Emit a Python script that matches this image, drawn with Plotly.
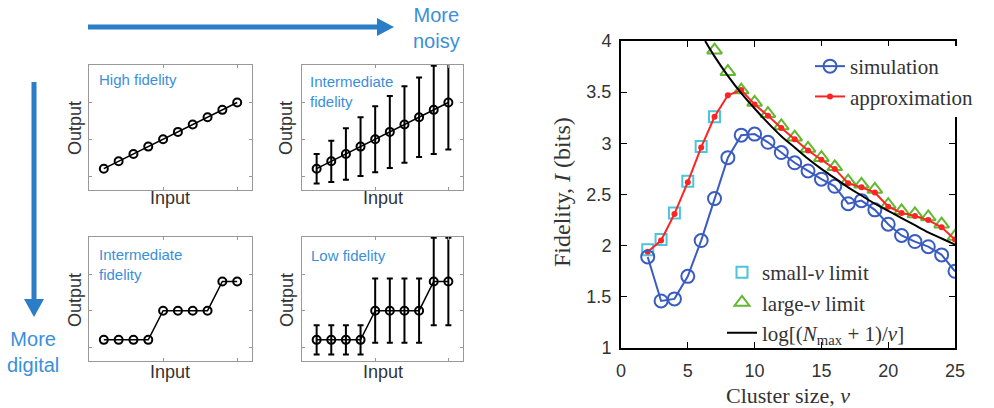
import plotly.graph_objects as go

# --- left: four sketch panels (input -> output) ---
inputs = [1, 2, 3, 4, 5, 6, 7, 8, 9, 10]
linear_out = [1, 2, 3, 4, 5, 6, 7, 8, 9, 10]
linear_err = [2.0, 2.8, 3.5, 4.0, 4.5, 4.9, 5.2, 5.4, 6.0, 6.4]
digital_out = [1, 1, 1, 1, 5, 5, 5, 5, 9, 9]
digital_err = [2.0, 2.0, 2.0, 2.0, 4.4, 4.4, 4.4, 4.4, 6.0, 6.0]
panel_titles = ["High fidelity", "Intermediate<br>fidelity", "Intermediate<br>fidelity", "Low fidelity"]

# --- right: fidelity vs cluster size ---
nu = [2, 3, 4, 5, 6, 7, 8, 9, 10, 11, 12, 13, 14, 15, 16, 17, 18, 19, 20, 21, 22, 23, 24, 25]
simulation = [1.89, 1.46, 1.48, 1.70, 2.05, 2.46, 2.86, 3.08, 3.09, 3.01, 2.91, 2.81,
              2.73, 2.65, 2.58, 2.41, 2.44, 2.35, 2.21, 2.10, 2.04, 1.99, 1.91, 1.75]
approximation = [1.94, 2.05, 2.31, 2.62, 2.96, 3.26, 3.47, 3.52, 3.38, 3.27, 3.15, 3.04,
                 2.93, 2.84, 2.75, 2.61, 2.57, 2.52, 2.38, 2.32, 2.29, 2.25, 2.18, 2.06]
small_nu = [2, 3, 4, 5, 6, 7]
small_limit = [1.96, 2.06, 2.32, 2.63, 2.97, 3.26]
large_nu = [7, 8, 9, 10, 11, 12, 13, 14, 15, 16, 17, 18, 19, 20, 21, 22, 23, 24, 25]
large_limit = [3.91, 3.70, 3.52, 3.40, 3.29, 3.17, 3.06, 2.95, 2.86, 2.77, 2.63, 2.60,
               2.55, 2.40, 2.34, 2.31, 2.28, 2.21, 2.09]
bound_nu = [6.3, 7, 8, 9, 10, 11, 12, 13, 14, 15, 16, 17, 18, 19, 20, 21, 22, 23, 24, 25]
bound_vals = [4.00, 3.85, 3.66, 3.49, 3.34, 3.20, 3.07, 2.96, 2.85, 2.75, 2.66, 2.57,
              2.49, 2.41, 2.34, 2.27, 2.20, 2.13, 2.07, 2.01]

W, H = 994, 408
def px_x(v):
    return v / W
def px_y(v):
    return 1 - v / H

BLUE_TXT = "#3b8fd9"
ARROW = "#2a7dc6"
SANS = "Liberation Sans"
SERIF = "Liberation Serif"

fig = go.Figure()

# panel boxes in pixels: (left, right, top, bottom)
boxes = [(89, 252, 65, 190), (302, 463, 65, 190), (89, 252, 237, 361), (302, 463, 237, 361)]
panel_y = [linear_out, linear_out, digital_out, digital_out]
panel_err = [None, linear_err, None, digital_err]

for i in range(4):
    n = i + 1
    err = None
    if panel_err[i] is not None:
        err = dict(type="data", array=panel_err[i], color="black", thickness=2, width=3)
    fig.add_trace(go.Scatter(
        x=inputs, y=panel_y[i], error_y=err, mode="lines+markers",
        line=dict(color="black", width=1.5),
        marker=dict(symbol="circle-open", size=8, color="black", line=dict(width=2)),
        xaxis=f"x{n}", yaxis=f"y{n}", showlegend=False))

# right panel traces
fig.add_trace(go.Scatter(
    x=small_nu, y=small_limit, mode="markers", name="small-<i>ν</i> limit",
    marker=dict(symbol="square-open", size=11, color="#4cc4dc", line=dict(width=2)),
    xaxis="x5", yaxis="y5", legend="legend2", legendrank=1))
fig.add_trace(go.Scatter(
    x=large_nu, y=large_limit, mode="markers", name="large-<i>ν</i> limit",
    marker=dict(symbol="triangle-up-open", size=13, color="#62b82e", line=dict(width=2)),
    xaxis="x5", yaxis="y5", legend="legend2", legendrank=2))
fig.add_trace(go.Scatter(
    x=nu, y=approximation, mode="lines+markers", name="approximation",
    line=dict(color="#ff2424", width=2),
    marker=dict(symbol="circle", size=6, color="#ff2424"),
    xaxis="x5", yaxis="y5", legend="legend", legendrank=2))
fig.add_trace(go.Scatter(
    x=nu, y=simulation, mode="lines+markers", name="simulation",
    line=dict(color="#3a5cc0", width=2),
    marker=dict(symbol="circle-open", size=13, color="#3a5cc0", line=dict(width=2)),
    xaxis="x5", yaxis="y5", legend="legend", legendrank=1))
fig.add_trace(go.Scatter(
    x=bound_nu, y=bound_vals, mode="lines", line=dict(color="black", width=2, shape="spline"),
    name="log[(<i>N</i><sub>max</sub>&nbsp;+ 1)/<i>ν</i>]",
    xaxis="x5", yaxis="y5", legend="legend2", legendrank=3))

layout = dict(
    width=W, height=H, margin=dict(l=0, r=0, t=0, b=0, autoexpand=False),
    paper_bgcolor="white", plot_bgcolor="white",
    font=dict(family=SANS, color="#333"),
)

for i, (l, r, t, b) in enumerate(boxes):
    n = i + 1
    common = dict(showgrid=False, zeroline=False, showline=True, linecolor="#999",
                  linewidth=1, mirror="ticks", ticks="inside", ticklen=3, tickcolor="#999",
                  showticklabels=False, fixedrange=True, automargin=False)
    layout[f"xaxis{n}"] = dict(domain=[px_x(l), px_x(r)], range=[0, 11], tickvals=[5, 10],
                               anchor=f"y{n}", **common)
    layout[f"yaxis{n}"] = dict(domain=[px_y(b), px_y(t)], range=[-1.9, 15.1], tickvals=[0, 5, 10],
                               anchor=f"x{n}", **common)

layout["xaxis5"] = dict(domain=[px_x(621), px_x(955)], range=[0, 25], tickvals=[0, 5, 10, 15, 20, 25],
                        anchor="y5", showgrid=False, zeroline=False, showline=True, linecolor="black",
                        linewidth=2, mirror="ticks", ticks="inside", ticklen=6, tickcolor="black",
                        tickfont=dict(family=SANS, size=18, color="#333"), ticklabelstandoff=5,
                        automargin=False)
layout["yaxis5"] = dict(domain=[px_y(348), px_y(41)], range=[1, 4],
                        tickvals=[1, 1.5, 2, 2.5, 3, 3.5, 4], ticktext=["1", "1.5", "2", "2.5", "3", "3.5", "4"],
                        anchor="x5", showgrid=False, zeroline=False, showline=True, linecolor="black",
                        linewidth=2, mirror="ticks", ticks="inside", ticklen=6, tickcolor="black",
                        tickfont=dict(family=SANS, size=18, color="#333"), ticklabelstandoff=4,
                        automargin=False)

layout["legend"] = dict(x=px_x(810), y=px_y(46), xanchor="left", yanchor="top",
                        bgcolor="white", borderwidth=0, font=dict(family=SERIF, size=21, color="#333"),
                        tracegroupgap=0)
layout["legend2"] = dict(x=px_x(722), y=px_y(252), xanchor="left", yanchor="top",
                         bgcolor="rgba(0,0,0,0)", borderwidth=0,
                         font=dict(family=SERIF, size=21, color="#333"))

fig.update_layout(**layout)

# text labels (all placed in paper coordinates)
def label(x, y, text, size, color="#333", family=SANS, angle=0, xanchor="center", align="center"):
    return dict(x=px_x(x), y=px_y(y), xref="paper", yref="paper", text=text, showarrow=False,
                textangle=angle, xanchor=xanchor, yanchor="middle", align=align,
                font=dict(family=family, size=size, color=color))

ann = []
title_pos = [(97, 80), (308, 91), (97, 264), (309, 255)]
for (x, y), txt in zip(title_pos, panel_titles):
    ann.append(label(x, y, txt, 15, BLUE_TXT, xanchor="left", align="left"))
for x, y in [(75, 128), (286, 128), (75, 300), (287, 300)]:
    ann.append(label(x, y, "Output", 18, angle=-90))
for x, y in [(170, 198), (383, 198), (170, 372), (383, 372)]:
    ann.append(label(x, y, "Input", 18))
ann.append(label(436, 28, "More<br>noisy", 20, BLUE_TXT))
ann.append(label(33, 352, "More<br>digital", 20, BLUE_TXT))
ann.append(label(562, 192, "Fidelity, <i>I</i> (bits)", 24, family=SERIF, angle=-90))
ann.append(label(788, 395, "Cluster size, <i>ν</i>", 22, family=SERIF))
fig.update_layout(annotations=ann)

# arrows
def seg(x0, y0, x1, y1, w):
    return dict(type="line", xref="paper", yref="paper", x0=px_x(x0), y0=px_y(y0), x1=px_x(x1), y1=px_y(y1),
                line=dict(color=ARROW, width=w))
def tri(pts):
    path = "M " + " L ".join(f"{px_x(a):.5f},{px_y(b):.5f}" for a, b in pts) + " Z"
    return dict(type="path", xref="paper", yref="paper", path=path, fillcolor=ARROW, line=dict(width=0))

fig.update_layout(shapes=[
    seg(88, 27, 379, 27, 5),
    tri([(377, 18), (394, 27), (377, 36)]),
    seg(34, 82, 34, 301, 5),
    tri([(24, 299), (34, 317), (44, 299)]),
])

fig.write_html("out.html", config={"displayModeBar": False},
               post_script="document.body.style.margin='0';")
